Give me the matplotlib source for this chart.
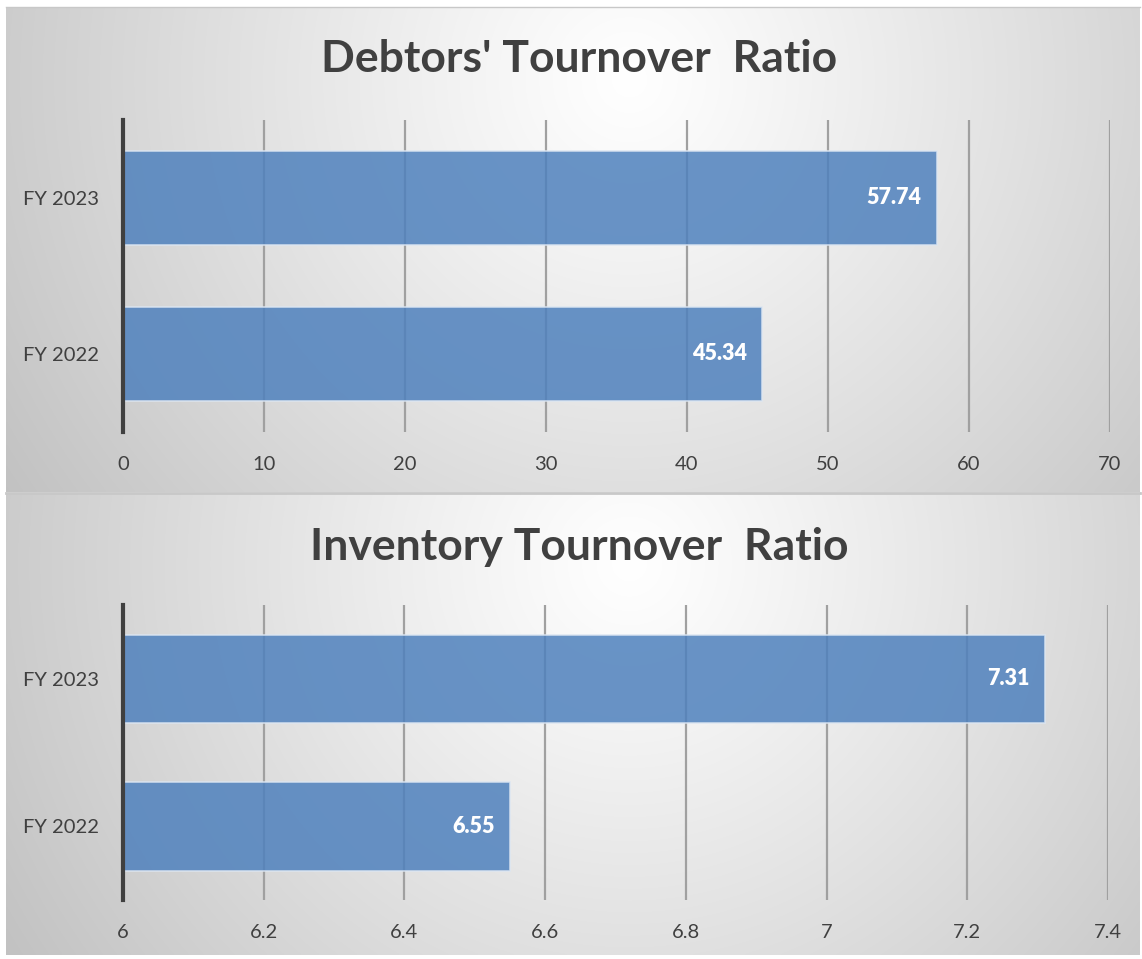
import numpy as np
import matplotlib
matplotlib.use("Agg")
import matplotlib.pyplot as plt

categories = ["FY 2022", "FY 2023"]
debtors_values = [45.34, 57.74]
inventory_values = [6.55, 7.31]
debtors_ticks = [0, 10, 20, 30, 40, 50, 60, 70]
inventory_ticks = [6, 6.2, 6.4, 6.6, 6.8, 7, 7.2, 7.4]
inventory_ticklabels = ["6", "6.2", "6.4", "6.6", "6.8", "7", "7.2", "7.4"]
titles = ["Debtors' Tournover  Ratio", "Inventory Tournover  Ratio"]

FONT = ["Lato", "DejaVu Sans"]
plt.rcParams['font.family'] = FONT

W, H = 1142, 959
fig = plt.figure(figsize=(W / 100, H / 100), dpi=100)
fig.patch.set_facecolor("white")

def px_rect(x0, y0, x1, y1):
    return [x0 / W, 1 - y1 / H, (x1 - x0) / W, (y1 - y0) / H]

def gradient_panel(rect, cx=0.55, cy=0.85):
    bg = fig.add_axes(rect, zorder=0)
    h, w = 200, 400
    yy, xx = np.mgrid[0:h, 0:w]
    xs = xx / (w - 1)
    ys = 1 - yy / (h - 1)
    aspect = rect[3] * H / (rect[2] * W)
    d = np.sqrt((xs - cx) ** 2 + ((ys - cy) * aspect) ** 2)
    d = d / d.max()
    v = 1.0 - 0.24 * np.clip(d, 0, 1) ** 1.1
    img = np.dstack([v, v, v])
    bg.imshow(img, extent=[0, 1, 0, 1], aspect='auto', origin='upper', interpolation='bilinear')
    bg.set_xlim(0, 1); bg.set_ylim(0, 1)
    for s in bg.spines.values():
        s.set_visible(False)
    bg.set_xticks([]); bg.set_yticks([])
    return bg

# panels
gradient_panel(px_rect(6, 7, 1140, 492))
gradient_panel(px_rect(6, 494, 1140, 955))
# separator lines / borders
fig.add_artist(plt.Line2D([6 / W, 1140 / W], [1 - 493 / H, 1 - 493 / H], color="#c8c8c8", lw=2, zorder=5))
fig.add_artist(plt.Line2D([6 / W, 1140 / W], [1 - 7 / H, 1 - 7 / H], color="#c8c8c8", lw=1, zorder=5))

BAR_COLOR = "#4f81bd"

def draw(rect, values, ticks, ticklabels, xlim, title, title_y):
    ax = fig.add_axes(rect, zorder=2)
    ax.set_facecolor("none")
    y = np.arange(len(categories))
    bars = ax.barh(y, [v - xlim[0] for v in values], left=xlim[0], height=0.6,
                   color=BAR_COLOR, alpha=0.85, edgecolor="#dce6f2", linewidth=1.2, zorder=3)
    for b, v in zip(bars, values):
        ax.annotate(f"{v:.2f}", xy=(v, b.get_y() + b.get_height() / 2), xytext=(-11, 0),
                    textcoords="offset points", ha="right", va="center",
                    color="white", fontsize=15.5, fontweight="heavy", zorder=4)
    ax.set_xlim(xlim)
    ax.set_ylim(-0.5, len(categories) - 0.5)
    ax.set_xticks(ticks)
    ax.set_xticklabels(ticklabels)
    ax.set_yticks(y)
    ax.set_yticklabels(categories)
    ax.grid(axis='x', color="#a0a0a0", lw=1.6, zorder=1)
    ax.set_axisbelow(True)
    for k in ["top", "right", "bottom"]:
        ax.spines[k].set_visible(False)
    ax.spines["left"].set_color("#404040")
    ax.spines["left"].set_linewidth(3)
    ax.spines["left"].set_zorder(5)
    ax.tick_params(axis='both', length=0, labelsize=14.5, labelcolor="#404040")
    ax.tick_params(axis='x', pad=17)
    ax.tick_params(axis='y', pad=17)
    fig.text(0.507, 1 - title_y / H, title, ha="center", va="center",
             fontsize=32, fontweight="bold", color="#404040", zorder=6)
    return ax

draw(px_rect(123, 120, 1110, 432), debtors_values, debtors_ticks,
     [str(t) for t in debtors_ticks], (0, 70), titles[0], 59)
draw(px_rect(123, 605, 1108, 900), inventory_values, inventory_ticks,
     inventory_ticklabels, (6, 7.4), titles[1], 547)

fig.savefig("out.png", dpi=100)
